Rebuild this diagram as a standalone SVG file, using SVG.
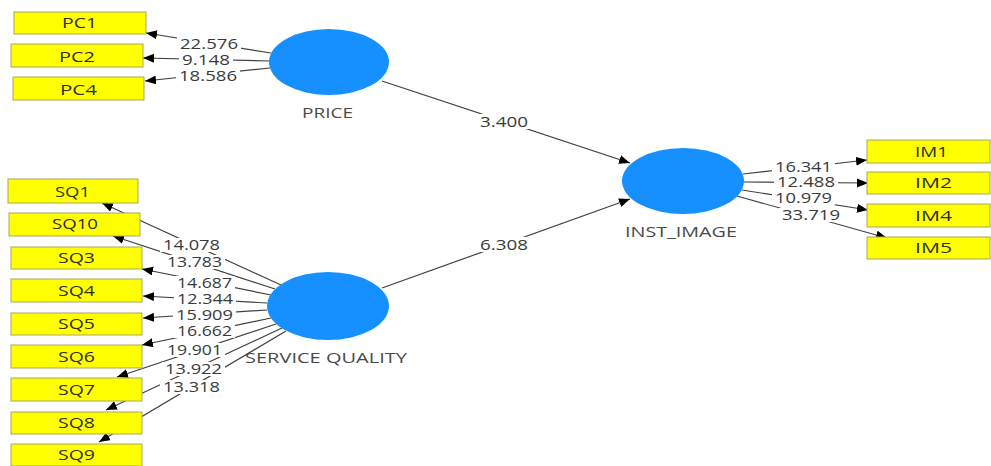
<svg xmlns="http://www.w3.org/2000/svg" width="991" height="466" viewBox="0 0 991 466">
<style>
.box{fill:#ffff00;stroke:#a8a860;stroke-width:1}
.lv{fill:#1690ff}
.ln{stroke:#404040;stroke-width:1.2;fill:none;marker-end:url(#ah)}
.bt{font-family:"Open Sans","DejaVu Sans",sans-serif;font-size:14px;fill:#2f2f1a}
.nt{font-family:"Open Sans","DejaVu Sans",sans-serif;font-size:14px;fill:#4a4a4a}
.num{font-family:"Open Sans","DejaVu Sans",sans-serif;font-size:14px;fill:#3a3a3a}
.bg{fill:#ffffff}
</style>
<defs>
<marker id="ah" markerUnits="userSpaceOnUse" markerWidth="12" markerHeight="10" refX="11" refY="4.5" orient="auto">
<path d="M0,0 L11,4.5 L0,9 z" fill="#000"/>
</marker>
</defs>
<rect width="991" height="466" fill="#fff"/>
<g id="connectors">
<line class="ln" x1="271" y1="53" x2="146" y2="33"/>
<line class="ln" x1="269" y1="61" x2="143" y2="58"/>
<line class="ln" x1="270" y1="68" x2="145" y2="81"/>
<line class="ln" x1="382" y1="81" x2="630" y2="163"/>
<line class="ln" x1="382" y1="288" x2="630" y2="199"/>
<line class="ln" x1="743" y1="174" x2="867" y2="160"/>
<line class="ln" x1="744" y1="182" x2="868" y2="183"/>
<line class="ln" x1="742" y1="190" x2="868" y2="210"/>
<line class="ln" x1="737" y1="196" x2="887" y2="238"/>
<line class="ln" x1="281" y1="285" x2="102" y2="203"/>
<line class="ln" x1="275" y1="289" x2="113" y2="236"/>
<line class="ln" x1="271" y1="295" x2="142" y2="269"/>
<line class="ln" x1="267" y1="303" x2="143" y2="296"/>
<line class="ln" x1="267" y1="310" x2="143" y2="318"/>
<line class="ln" x1="271" y1="318" x2="142" y2="345"/>
<line class="ln" x1="276" y1="324" x2="117" y2="377"/>
<line class="ln" x1="282" y1="328" x2="106" y2="410"/>
<line class="ln" x1="286" y1="331" x2="99" y2="442"/>
<g id="labels">
<rect class="bg" x="177" y="37" width="64" height="14"/><text class="num" x="180" y="49" textLength="58" lengthAdjust="spacingAndGlyphs">22.576</text>
<rect class="bg" x="179" y="53" width="54" height="14"/><text class="num" x="182" y="65" textLength="48" lengthAdjust="spacingAndGlyphs">9.148</text>
<rect class="bg" x="176" y="69" width="64" height="14"/><text class="num" x="179" y="81" textLength="58" lengthAdjust="spacingAndGlyphs">18.586</text>
<rect class="bg" x="476" y="114" width="56" height="15"/><text class="num" x="480" y="127" textLength="48" lengthAdjust="spacingAndGlyphs">3.400</text>
<rect class="bg" x="476" y="237" width="56" height="15"/><text class="num" x="480" y="250" textLength="48" lengthAdjust="spacingAndGlyphs">6.308</text>
<rect class="bg" x="772" y="160" width="63" height="14"/><text class="num" x="775" y="172" textLength="57" lengthAdjust="spacingAndGlyphs">16.341</text>
<rect class="bg" x="774" y="176" width="64" height="13"/><text class="num" x="777" y="187" textLength="58" lengthAdjust="spacingAndGlyphs">12.488</text>
<rect class="bg" x="772" y="191" width="63" height="14"/><text class="num" x="775" y="203" textLength="57" lengthAdjust="spacingAndGlyphs">10.979</text>
<rect class="bg" x="779" y="208" width="64" height="14"/><text class="num" x="782" y="220" textLength="58" lengthAdjust="spacingAndGlyphs">33.719</text>
<rect class="bg" x="160" y="238" width="63" height="14"/><text class="num" x="163" y="250" textLength="57" lengthAdjust="spacingAndGlyphs">14.078</text>
<rect class="bg" x="164" y="255" width="61" height="14"/><text class="num" x="167" y="267" textLength="55" lengthAdjust="spacingAndGlyphs">13.783</text>
<rect class="bg" x="174" y="276" width="61" height="14"/><text class="num" x="177" y="288" textLength="55" lengthAdjust="spacingAndGlyphs">14.687</text>
<rect class="bg" x="174" y="292" width="62" height="14"/><text class="num" x="177" y="304" textLength="56" lengthAdjust="spacingAndGlyphs">12.344</text>
<rect class="bg" x="173" y="308" width="63" height="14"/><text class="num" x="176" y="320" textLength="57" lengthAdjust="spacingAndGlyphs">15.909</text>
<rect class="bg" x="174" y="324" width="61" height="14"/><text class="num" x="177" y="336" textLength="55" lengthAdjust="spacingAndGlyphs">16.662</text>
<rect class="bg" x="164" y="343" width="61" height="14"/><text class="num" x="167" y="355" textLength="55" lengthAdjust="spacingAndGlyphs">19.901</text>
<rect class="bg" x="162" y="362" width="63" height="14"/><text class="num" x="165" y="374" textLength="57" lengthAdjust="spacingAndGlyphs">13.922</text>
<rect class="bg" x="160" y="380" width="63" height="14"/><text class="num" x="163" y="392" textLength="57" lengthAdjust="spacingAndGlyphs">13.318</text>
</g>
</g>
<g id="PC1"><rect class="box" x="14" y="12" width="132" height="22"/><text class="bt" x="62" y="28" textLength="35" lengthAdjust="spacingAndGlyphs">PC1</text></g>
<g id="PC2"><rect class="box" x="11" y="44" width="132" height="23"/><text class="bt" x="59" y="62" textLength="36" lengthAdjust="spacingAndGlyphs">PC2</text></g>
<g id="PC4"><rect class="box" x="13" y="77" width="131" height="23"/><text class="bt" x="60" y="95" textLength="37" lengthAdjust="spacingAndGlyphs">PC4</text></g>
<g id="SQ1"><rect class="box" x="8" y="179" width="130" height="24"/><text class="bt" x="55" y="197" textLength="35" lengthAdjust="spacingAndGlyphs">SQ1</text></g>
<g id="SQ10"><rect class="box" x="9" y="213" width="131" height="23"/><text class="bt" x="52" y="229" textLength="46" lengthAdjust="spacingAndGlyphs">SQ10</text></g>
<g id="SQ3"><rect class="box" x="11" y="247" width="131" height="22"/><text class="bt" x="58" y="263" textLength="37" lengthAdjust="spacingAndGlyphs">SQ3</text></g>
<g id="SQ4"><rect class="box" x="11" y="279" width="131" height="23"/><text class="bt" x="58" y="296" textLength="37" lengthAdjust="spacingAndGlyphs">SQ4</text></g>
<g id="SQ5"><rect class="box" x="11" y="313" width="131" height="22"/><text class="bt" x="58" y="329" textLength="37" lengthAdjust="spacingAndGlyphs">SQ5</text></g>
<g id="SQ6"><rect class="box" x="11" y="345" width="131" height="23"/><text class="bt" x="58" y="362" textLength="37" lengthAdjust="spacingAndGlyphs">SQ6</text></g>
<g id="SQ7"><rect class="box" x="11" y="378" width="131" height="23"/><text class="bt" x="58" y="395" textLength="37" lengthAdjust="spacingAndGlyphs">SQ7</text></g>
<g id="SQ8"><rect class="box" x="11" y="412" width="131" height="22"/><text class="bt" x="58" y="428" textLength="37" lengthAdjust="spacingAndGlyphs">SQ8</text></g>
<g id="SQ9"><rect class="box" x="11" y="444" width="131" height="22"/><text class="bt" x="58" y="460" textLength="37" lengthAdjust="spacingAndGlyphs">SQ9</text></g>
<g id="IM1"><rect class="box" x="867" y="140" width="123" height="23"/><text class="bt" x="915" y="157" textLength="33" lengthAdjust="spacingAndGlyphs">IM1</text></g>
<g id="IM2"><rect class="box" x="867" y="172" width="123" height="22"/><text class="bt" x="915" y="188" textLength="37" lengthAdjust="spacingAndGlyphs">IM2</text></g>
<g id="IM4"><rect class="box" x="867" y="204" width="123" height="23"/><text class="bt" x="915" y="221" textLength="37" lengthAdjust="spacingAndGlyphs">IM4</text></g>
<g id="IM5"><rect class="box" x="867" y="237" width="123" height="22"/><text class="bt" x="915" y="253" textLength="37" lengthAdjust="spacingAndGlyphs">IM5</text></g>
<g id="PRICE"><ellipse class="lv" cx="329" cy="62" rx="60" ry="33"/><text class="nt" x="302" y="118" textLength="51" lengthAdjust="spacingAndGlyphs">PRICE</text></g>
<g id="SERVICE_QUALITY"><ellipse class="lv" cx="328" cy="306" rx="61" ry="34"/><text class="nt" x="245" y="363" textLength="162" lengthAdjust="spacingAndGlyphs">SERVICE QUALITY</text></g>
<g id="INST_IMAGE"><ellipse class="lv" cx="683" cy="181" rx="61" ry="33"/><text class="nt" x="625" y="237" textLength="112" lengthAdjust="spacingAndGlyphs">INST_IMAGE</text></g>
</svg>
